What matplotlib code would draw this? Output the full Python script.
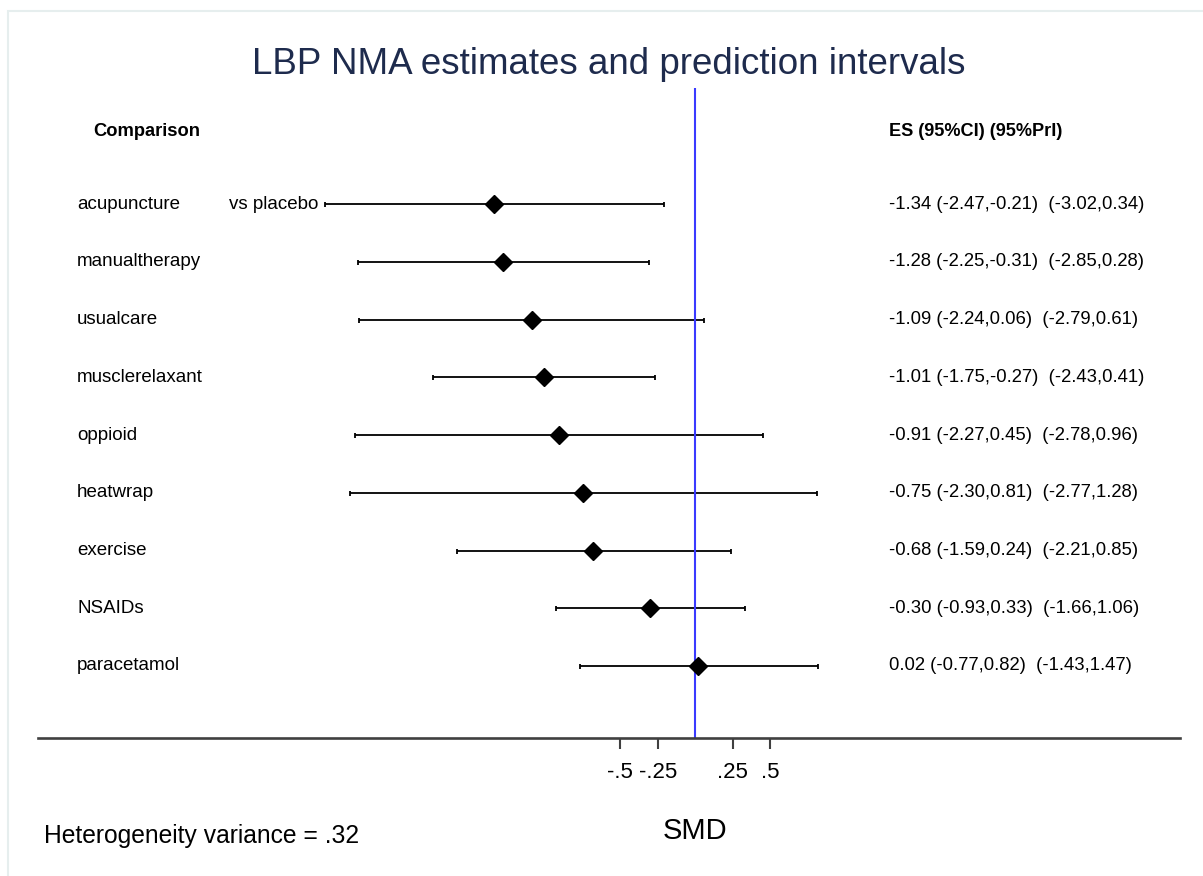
import numpy as np
import matplotlib
matplotlib.use('Agg')
import matplotlib.pyplot as plt
from matplotlib.patches import Rectangle

plt.rcParams['font.family'] = ['Liberation Sans', 'DejaVu Sans']

treatments = ['acupuncture', 'manualtherapy', 'usualcare', 'musclerelaxant', 'oppioid',
              'heatwrap', 'exercise', 'NSAIDs', 'paracetamol']
es = [-1.34, -1.28, -1.09, -1.01, -0.91, -0.75, -0.68, -0.30, 0.02]
ci_lo = [-2.47, -2.25, -2.24, -1.75, -2.27, -2.30, -1.59, -0.93, -0.77]
ci_hi = [-0.21, -0.31, 0.06, -0.27, 0.45, 0.81, 0.24, 0.33, 0.82]
pi_lo = [-3.02, -2.85, -2.79, -2.43, -2.78, -2.77, -2.21, -1.66, -1.43]
pi_hi = [0.34, 0.28, 0.61, 0.41, 0.96, 1.28, 0.85, 1.06, 1.47]
xticks = [-0.5, -0.25, 0.25, 0.5]
xtick_labels = ['-.5', '-.25', '.25', '.5']

W, H = 1203, 876
fig = plt.figure(figsize=(W / 100, H / 100), dpi=100)
fig.patch.set_facecolor('white')

# light frame around the graph region (partly cropped in the original)
fig.add_artist(Rectangle((8 / W, -0.1), 1.2, 1 - 11 / H + 0.1, transform=fig.transFigure,
                         fill=False, edgecolor='#e6eeee', lw=1.5))

ax = fig.add_axes([38 / W, (H - 738) / H, (1180 - 38) / W, (738 - 88) / H])
n = len(treatments)
y = np.arange(n, 0, -1)
ax.set_xlim(-4.38, 3.23)
ax.set_ylim(-0.247, 11.01)

ax.axvline(0, color='#3a3aff', lw=1.5, zorder=2)
ax.errorbar(es, y, xerr=[np.array(es) - np.array(ci_lo), np.array(ci_hi) - np.array(es)],
            fmt='none', ecolor='black', elinewidth=1.3, capsize=1.8, capthick=1.3, zorder=1)
ax.plot(es, y, 'D', color='black', ms=9.5, zorder=3)

for i in range(n):
    ax.text(-4.12, y[i], treatments[i], fontsize=13.5, va='center', ha='left')
    txt = f"{es[i]:.2f} ({ci_lo[i]:.2f},{ci_hi[i]:.2f})  ({pi_lo[i]:.2f},{pi_hi[i]:.2f})"
    ax.text(1.29, y[i], txt, fontsize=13.3, va='center', ha='left')
ax.text(ci_lo[0] - 0.04, y[0], 'vs placebo', fontsize=13.5, va='center', ha='right')

ax.text(-4.01, 10.25, 'Comparison', fontsize=13.2, fontweight='bold', va='center', ha='left')
ax.text(1.29, 10.25, 'ES (95%CI) (95%PrI)', fontsize=13.1, fontweight='bold', va='center', ha='left')

for s in ['top', 'right', 'left']:
    ax.spines[s].set_visible(False)
ax.spines['bottom'].set_color('#404040')
ax.spines['bottom'].set_linewidth(1.9)
ax.set_yticks([])
ax.set_xticks(xticks)
ax.set_xticklabels(xtick_labels, fontsize=16)
ax.tick_params(axis='x', length=8, width=1.5, color='#404040', pad=9)
ax.text(0, -1.85, 'SMD', fontsize=21, ha='center', va='center')

fig.text(609 / W, 1 - 64 / H, 'LBP NMA estimates and prediction intervals', fontsize=26.5,
         color='#1e2b4d', ha='center', va='center')
fig.text(44 / W, 1 - 836 / H, 'Heterogeneity variance = .32', fontsize=17.7, ha='left', va='center')

fig.savefig('out.png', dpi=100)
